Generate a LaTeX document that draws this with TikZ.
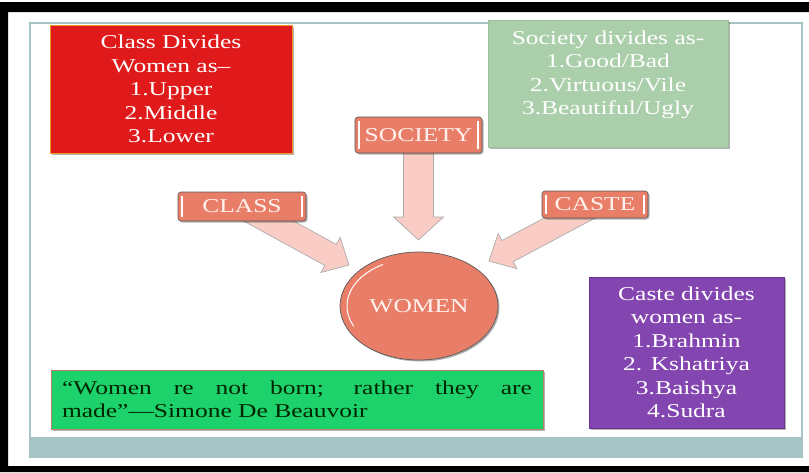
\documentclass[tikz,border=0pt]{standalone}
\usepackage{fontspec}
\setmainfont{Liberation Serif}[FakeStretch=1.3]
\usetikzlibrary{calc,shapes.geometric,shadows}
\definecolor{redfill}{HTML}{E01A1A}
\definecolor{redline}{HTML}{EE9A2A}
\definecolor{sage}{HTML}{ABCFAA}
\definecolor{sageline}{HTML}{9BBF9A}
\definecolor{quotegreen}{HTML}{1DD16B}
\definecolor{quoteline}{HTML}{C0806A}
\definecolor{purplefill}{HTML}{8345B0}
\definecolor{purpleline}{HTML}{6B3392}
\definecolor{salmon}{HTML}{E97E68}
\definecolor{arrowpink}{HTML}{F9CDC6}
\definecolor{teal}{HTML}{A5C6C5}
\definecolor{labeltext}{HTML}{FFF2EE}
\pgfdeclarelayer{back}
\pgfdeclarelayer{mid}
\pgfsetlayers{back,mid,main}
\newcommand\blockarrow[5]{%
  \coordinate (ahbase) at ($(#2)!#5!(#1)$);
  \path[blockarr] ($(#1)!#3!90:(#2)$) -- ($(ahbase)!#3!90:(#2)$) -- ($(ahbase)!#4!90:(#2)$)
    -- (#2) -- ($(ahbase)!#4!-90:(#2)$) -- ($(ahbase)!#3!-90:(#2)$) -- ($(#1)!#3!-90:(#2)$) -- cycle;}
\begin{document}
\begin{tikzpicture}[x=1pt,y=-1pt,
  every node/.style={font=\fontsize{19.6}{23.5}\selectfont},
  softshadow/.style={drop shadow={shadow xshift=1.5pt,shadow yshift=-1.5pt,opacity=0.3,fill=black}},
  redbox/.style={rectangle,fill=redfill,draw=redline,line width=1pt,text=white,align=center,softshadow},
  sagebox/.style={rectangle,fill=sage,draw=sageline,line width=0.6pt,text=white,inner sep=0pt,softshadow},
  quotebox/.style={rectangle,fill=quotegreen,draw=quoteline,line width=1pt,text=black!85!green,align=justify,softshadow},
  purplebox/.style={rectangle,fill=purplefill,draw=purpleline,line width=1pt,text=white,align=center,softshadow},
  labelbox/.style={rectangle,rounded corners=3pt,fill=salmon,draw=gray!70!black,line width=0.6pt,text=labeltext,
    inner sep=0pt,softshadow,
    path picture={\draw[white,line width=1.6pt]
      ([xshift=4pt,yshift=-4pt]path picture bounding box.north west) -- ([xshift=4pt,yshift=4pt]path picture bounding box.south west)
      ([xshift=-4pt,yshift=-4pt]path picture bounding box.north east) -- ([xshift=-4pt,yshift=4pt]path picture bounding box.south east);}},
  womenstyle/.style={ellipse,fill=salmon,draw=gray!70!black,line width=0.7pt,text=labeltext,inner sep=0pt,softshadow},
  blockarr/.style={fill=arrowpink,draw=gray!65,line width=0.7pt}
]
\useasboundingbox (0,0) rectangle (809,472);
% outer frame and slide
\begin{pgfonlayer}{back}
\fill[white] (0,0) rectangle (809,472);
\fill[black,even odd rule] (0,2) rectangle (840,472) (8,12) rectangle (830,466);
\draw[teal,line width=1.2pt] (30,23) rectangle (802,457);
\fill[teal] (30,437) rectangle (801,457);
\end{pgfonlayer}

% boxes
\node[redbox,minimum width=242pt,minimum height=128pt] (classbox) at (171,89)
  {Class Divides\\Women as–\\1.Upper\\2.Middle\\3.Lower};
\node[sagebox] (societybox) at (608,83.5)
  {\parbox[c][127pt][t]{240pt}{\centering\rule{0pt}{24pt}Society divides as-\\1.Good/Bad\\2.Virtuous/Vile\\3.Beautiful/Ugly\par}};
\node[purplebox,minimum width=195pt,minimum height=151pt] (castebox) at (686.5,352.5)
  {Caste divides\\women as-\\1.Brahmin\\2. Kshatriya\\3.Baishya\\4.Sudra};
\node[quotebox,minimum width=492pt,minimum height=59pt,text width=470pt,inner xsep=11pt] (quote) at (297,399.5)
  {“Women re not born; rather they are\linebreak made”—Simone De Beauvoir};

% labels
\node[labelbox,minimum width=128pt,minimum height=29pt] (class) at (242,206.5) {CLASS};
\node[labelbox,minimum width=127pt,minimum height=36pt] (society) at (418.5,135) {SOCIETY};
\node[labelbox,minimum width=106pt,minimum height=27pt] (caste) at (595,204.5) {CASTE};
\node[womenstyle,minimum width=158pt,minimum height=108pt] (women) at (419,306) {WOMEN};
\draw[white,line width=1pt] (women.center) ++(205:72pt and 48pt) arc[start angle=205,end angle=120,x radius=72pt,y radius=48pt];

% arrows
\coordinate (classtip) at (349,265);
\coordinate (societytip) at (418.5,240);
\coordinate (castetip) at (489,261);
\begin{pgfonlayer}{mid}
\blockarrow{class.center}{classtip}{12pt}{20pt}{21pt}
\blockarrow{society.center}{societytip}{15pt}{25pt}{23pt}
\blockarrow{caste.center}{castetip}{12pt}{20pt}{21pt}
\end{pgfonlayer}
\end{tikzpicture}
\end{document}
